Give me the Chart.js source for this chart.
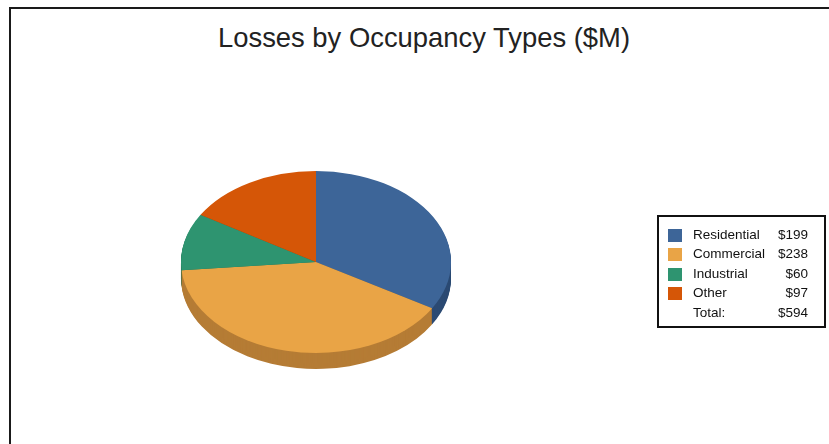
<!DOCTYPE html>
<html>
<head>
<meta charset="utf-8">
<script src="https://cdn.jsdelivr.net/npm/chart.js@4"></script>
<style>
  body { margin: 0; background: #fff; font-family: "Liberation Sans", Arial, sans-serif; }
  #wrap { position: relative; width: 829px; height: 444px; overflow: hidden; }
  #frame { position: absolute; left: 9px; top: 7px; width: 900px; height: 500px;
           border-left: 2px solid #1a1a1a; border-top: 2px solid #1a1a1a; }
  #title { position: absolute; left: 0; top: 24px; width: 848px; text-align: center;
           font-size: 27.4px; line-height: 27px; color: #222; }
  #chart { position: absolute; left: 0; top: 0; }
  #legend { position: absolute; left: 657px; top: 215px; width: 165px; height: 109px;
            border: 2px solid #111; font-size: 13.5px; color: #111; }
  #legend table { border-collapse: collapse; margin: 7.5px 0 0 9px; }
  #legend td { height: 19.5px; padding: 0; vertical-align: middle; white-space: nowrap; }
  .sw { display: inline-block; width: 14px; height: 13px; vertical-align: middle; }
</style>
</head>
<body>
<div id="wrap">
  <div id="frame"></div>
  <div id="title">Losses by Occupancy Types ($M)</div>
  <canvas id="chart" width="829" height="444"></canvas>
  <div id="legend"></div>
</div>
<script>
const categories = ['Residential', 'Commercial', 'Industrial', 'Other'];
const losses = [199, 238, 60, 97];
const totalLabel = 'Total:';
const topColors = ['#3d6598', '#e9a446', '#2e9470', '#d55607'];
const sideColors = ['#2b4a73', '#b57c35', '#1f6b50', '#9c3f05'];

const tilt = 0.674;   // vertical squash of the pie
const depth = 16;     // thickness in px

function squash(ctx, cy) {
    ctx.translate(0, cy);
    ctx.scale(1, tilt);
    ctx.translate(0, -cy);
}

const pie3d = {
    id: 'pie3d',
    beforeDatasetsDraw(chart) {
        const ctx = chart.ctx;
        const arcs = chart.getDatasetMeta(0).data;
        const cy = arcs[0].y;
        // side of the pie
        for (let i = depth; i >= 1; i--) {
            arcs.forEach((arc, idx) => {
                ctx.save();
                ctx.translate(0, i);
                squash(ctx, cy);
                ctx.beginPath();
                ctx.moveTo(arc.x, arc.y);
                ctx.arc(arc.x, arc.y, arc.outerRadius, arc.startAngle, arc.endAngle);
                ctx.closePath();
                ctx.fillStyle = sideColors[idx];
                ctx.fill();
                ctx.restore();
            });
        }
        ctx.save();
        squash(ctx, cy);
    },
    afterDatasetsDraw(chart) {
        chart.ctx.restore();
    }
};

new Chart(document.getElementById('chart'), {
    type: 'pie',
    data: {
        labels: categories,
        datasets: [{
            data: losses,
            backgroundColor: topColors,
            borderWidth: 0,
            hoverOffset: 0
        }]
    },
    options: {
        responsive: false,
        animation: false,
        events: [],
        layout: {
            padding: { left: 181, right: 378, top: 127, bottom: 47 }
        },
        plugins: {
            legend: { display: false },
            tooltip: { enabled: false }
        }
    },
    plugins: [pie3d]
});

// legend with values
let rows = '';
categories.forEach((name, i) => {
    rows += '<tr><td style="width:25px"><span class="sw" style="background:' + topColors[i] + '"></span></td>'
        + '<td style="width:85px">' + name + '</td>'
        + '<td style="width:30px;text-align:right">$' + losses[i] + '</td></tr>';
});
const total = losses.reduce((a, b) => a + b, 0);
rows += '<tr><td></td><td>' + totalLabel + '</td><td style="text-align:right">$' + total + '</td></tr>';
document.getElementById('legend').innerHTML = '<table>' + rows + '</table>';
</script>
</body>
</html>
